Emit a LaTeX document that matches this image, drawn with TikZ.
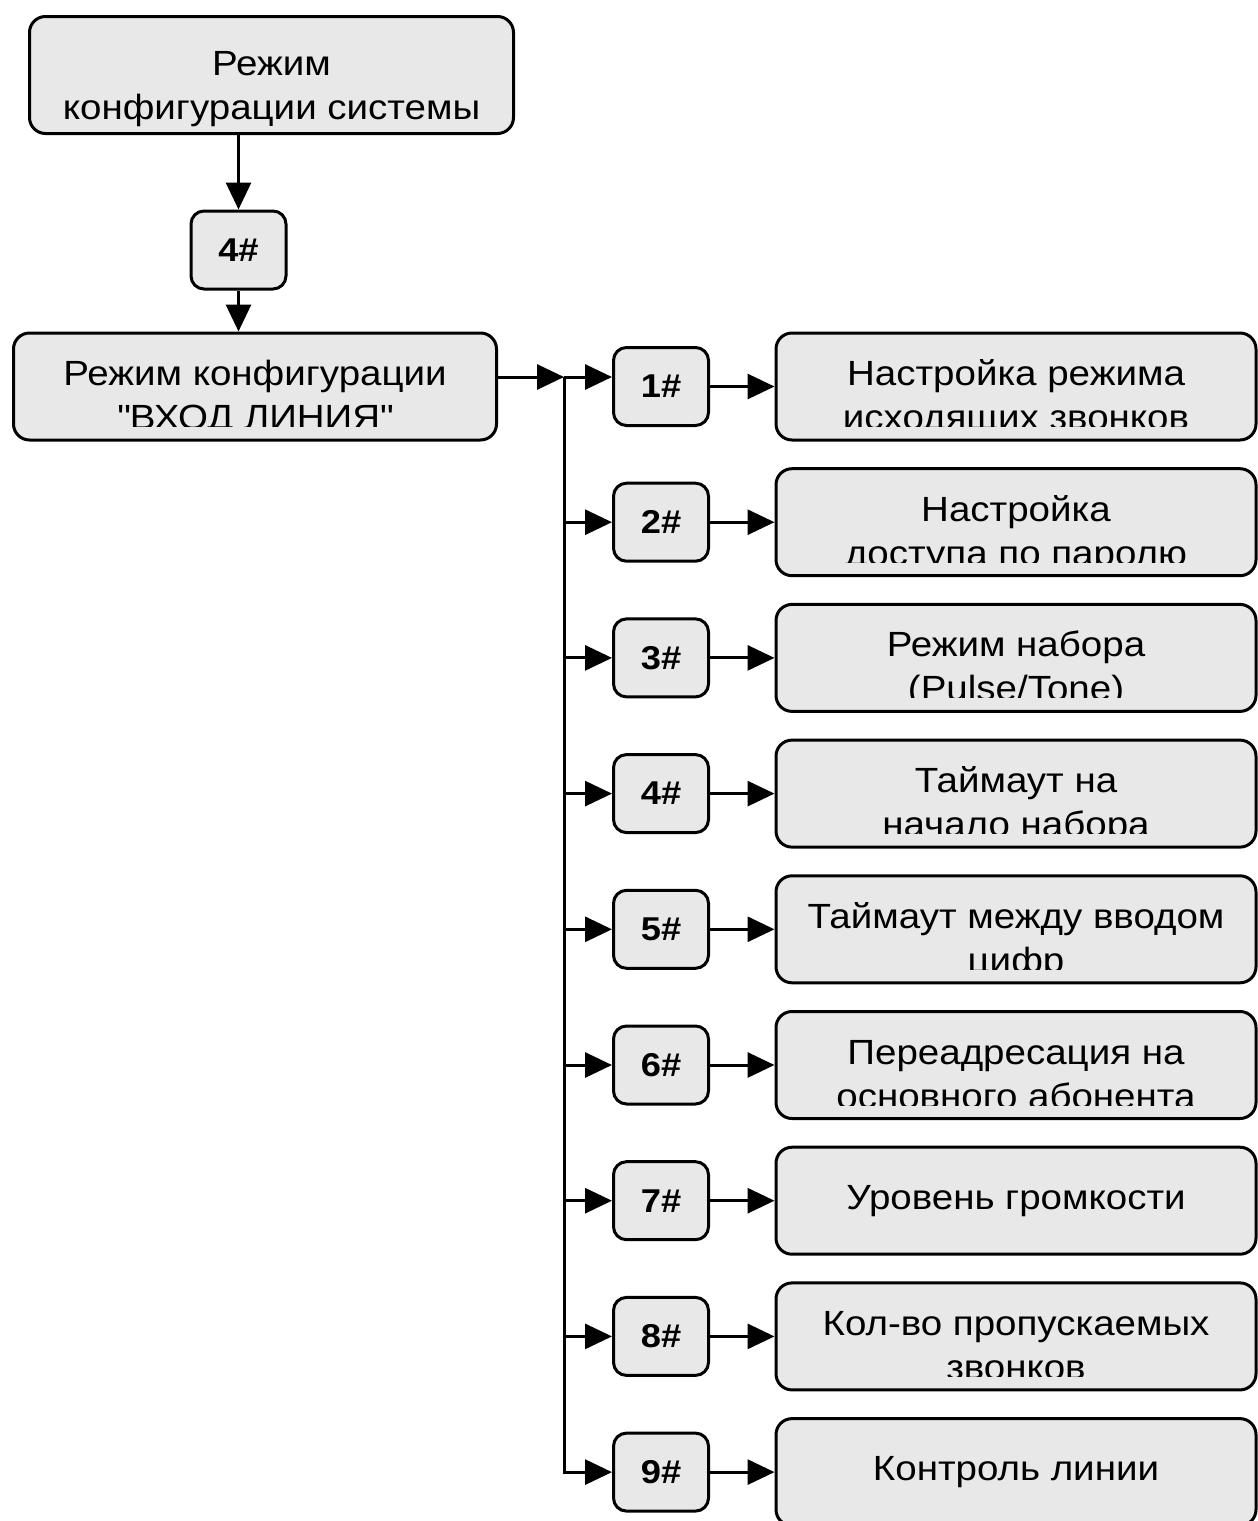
\documentclass[tikz,border=0pt]{standalone}
\usepackage{fontspec}
\setmainfont{Liberation Sans}[FakeStretch=1.1]
\usetikzlibrary{positioning, arrows.meta}
\definecolor{boxgray}{HTML}{E8E8E8}

\begin{document}
\begin{tikzpicture}[x=1pt, y=-1pt, line width=3pt,
        box/.style={draw, fill=boxgray, rounded corners=16pt, minimum width=480pt, minimum height=107pt, inner sep=0pt, align=center, font=\fontsize{35}{44}\selectfont},
        key/.style={draw, fill=boxgray, rounded corners=13pt, minimum width=95pt, minimum height=78pt, inner sep=0pt, font=\fontsize{33}{40}\selectfont\bfseries},
        txt/.style={inner sep=0pt, align=center, anchor=base, font=\fontsize{35}{44}\selectfont},
        arr/.style={-{Triangle[length=27pt, width=25pt]}}]
      \useasboundingbox (0,0) rectangle (1258,1521);
      % mode chain on the left
      \node[box, minimum width=484pt, minimum height=117pt] (sys) at (271.5,75) {};
      \node[txt] (sys-t) at ([yshift=-44]sys.center) {Режим\\конфигурации системы};
      \node[key] (k4h) at (238.5,250) {4\#};
      \node[box, minimum width=483pt] (line) at (255,386.5) {};
      % key column
      \node[key] (k1) at (661,386.5) {1\#};
      \node[key] (k2) at (661,522.2) {2\#};
      \node[key] (k3) at (661,657.9) {3\#};
      \node[key] (k4) at (661,793.6) {4\#};
      \node[key] (k5) at (661,929.3) {5\#};
      \node[key] (k6) at (661,1065) {6\#};
      \node[key] (k7) at (661,1200.7) {7\#};
      \node[key] (k8) at (661,1336.4) {8\#};
      \node[key] (k9) at (661,1472.1) {9\#};
      % settings column
      \node[box] (b1) at (1016,386.5) {};
      \node[box] (b2) at (1016,522.2) {};
      \node[box] (b3) at (1016,657.9) {};
      \node[box] (b4) at (1016,793.6) {};
      \node[box] (b5) at (1016,929.3) {};
      \node[box] (b6) at (1016,1065) {};
      \node[box] (b7) at (1016,1200.7) {Уровень громкости};
      \node[box] (b8) at (1016,1336.4) {};
      \node[box] (b9) at (1016,1472.1) {Контроль линии};
      % two-line labels, cut off at the bottom
      \foreach \bx/\la/\lb in {line/Режим конфигурации/\textquotedbl ВХОД ЛИНИЯ\textquotedbl, b1/Настройка режима/исходящих звонков,
          b2/Настройка/доступа по паролю, b3/Режим набора/{(Pulse/Tone)}, b4/Таймаут на/начало набора,
          b5/Таймаут между вводом/цифр, b6/Переадресация на/основного абонента, b8/Кол-во пропускаемых/звонков}{
        \begin{scope}
          \clip (\bx.north west) rectangle ([yshift=-40]\bx.east);
          \node[txt] (\bx-t) at ([yshift=-43]\bx.center) {\la\\\lb};
        \end{scope}
      }
      % connectors
      \draw[arr] (sys.south -| k4h) -- (k4h);
      \draw[arr] (k4h) -- (line.north -| k4h);
      \coordinate (split) at (564,377);
      \draw[arr] (line.east |- split) -- (split);
      \draw[arr] (split) -- (k1.west |- split);
      \draw[arr] (split) |- (k9);
      \foreach \i in {2,...,8} \draw[arr] (split |- k\i) -- (k\i);
      \foreach \i in {1,...,9} \draw[arr] (k\i) -- (b\i);
    \end{tikzpicture}
\end{document}
